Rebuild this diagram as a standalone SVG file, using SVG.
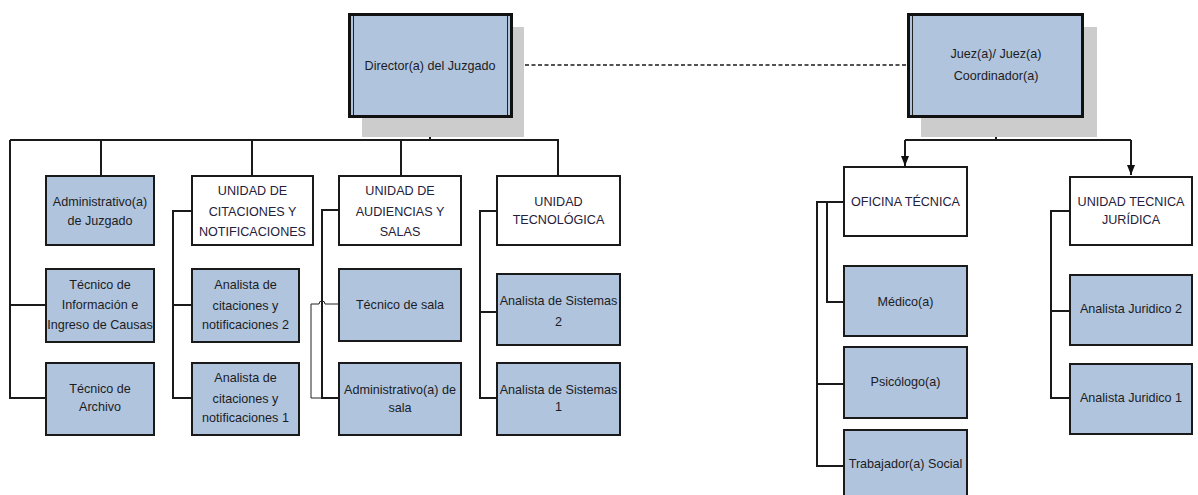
<svg xmlns="http://www.w3.org/2000/svg" width="1198" height="495" viewBox="0 0 1198 495">
  <defs>
    <marker id="arrow" viewBox="0 0 10 8" refX="10" refY="4" markerWidth="10" markerHeight="8" markerUnits="userSpaceOnUse" orient="auto">
      <path d="M0,0 L10,4 L0,8 Z" fill="#111"/>
    </marker>
  </defs>
  <style>
    text { font-family: "Liberation Sans", Arial, sans-serif; font-size: 12.6px; fill: #1c1c24; text-anchor: middle; }
    .head text { fill: #24203a; }
    .role { fill: #b0c4de; stroke: #1a1a1a; stroke-width: 2; }
    .unit { fill: #ffffff; stroke: #1a1a1a; stroke-width: 2; }
    .top { fill: #b0c4de; stroke: #111; stroke-width: 3; }
    .inner { stroke: #222; stroke-width: 1; }
    .shadow { fill: #cccccc; }
    .link { fill: none; stroke: #1a1a1a; stroke-width: 2; }
    .thin { fill: none; stroke: #222; stroke-width: 1; }
    .dash { fill: none; stroke: #1a1a1a; stroke-width: 1.6; stroke-dasharray: 4 2.5; }
  </style>

  <!-- connectors -->
  <g id="connectors">
    <line class="dash" x1="512" y1="65" x2="907" y2="65"/>
    <!-- Director branch -->
    <path class="link" d="M430,117 V140 M10,140 H559 M101,140 V176 M252,140 V176 M401,140 V176 M558,140 V176"/>
    <path class="link" d="M10,140 V398 H46 M10,305 H46"/>
    <path class="link" d="M192,211 H173 V398 H192 M173,305 H192"/>
    <path class="link" d="M339,210 H322 V398 H339"/>
    <path class="thin" d="M339,304 H325 A3,3 0 0 0 319,304 H311 V398 H322"/>
    <path class="link" d="M497,211 H480 V398 H497 M480,312 H497"/>
    <!-- Judge branch -->
    <path class="link" d="M996,117 V140 M905,140 H1131"/>
    <line class="link" x1="905" y1="140" x2="905" y2="166" marker-end="url(#arrow)"/>
    <line class="link" x1="1131" y1="140" x2="1131" y2="175" marker-end="url(#arrow)"/>
    <path class="link" d="M844,202 H817 V466 H844 M817,384 H844 M827,202 V302 H844"/>
    <path class="link" d="M1070,211 H1051 V398 H1070 M1051,311 H1070"/>
  </g>

  <!-- top level -->
  <g id="director">
    <rect class="shadow" x="362" y="27" width="162" height="110"/>
    <rect class="top" x="349.5" y="14.5" width="162" height="102"/>
    <line class="inner" x1="353.5" y1="16" x2="353.5" y2="115"/>
    <line class="inner" x1="507.5" y1="16" x2="507.5" y2="115"/>
    <text x="430" y="69.5">Director(a) del Juzgado</text>
  </g>
  <g id="juez">
    <rect class="shadow" x="921" y="27" width="176" height="110"/>
    <rect class="top" x="908.5" y="14.5" width="174" height="102"/>
    <line class="inner" x1="912.5" y1="16" x2="912.5" y2="115"/>
    <text x="996" y="57.5">Juez(a)/ Juez(a)</text>
    <text x="996" y="79.5">Coordinador(a)</text>
  </g>

  <!-- direct staff -->
  <g id="admin-juzgado">
    <rect class="role" x="46" y="176" width="108" height="69"/>
    <text x="100" y="206">Administrativo(a)</text>
    <text x="100" y="225">de Juzgado</text>
  </g>
  <g id="tecnico-informacion">
    <rect class="role" x="46" y="269" width="108" height="73"/>
    <text x="100" y="289">Técnico de</text>
    <text x="100" y="309">Información e</text>
    <text x="100" y="329">Ingreso de Causas</text>
  </g>
  <g id="tecnico-archivo">
    <rect class="role" x="46" y="363" width="108" height="72"/>
    <text x="100" y="393">Técnico de</text>
    <text x="100" y="411">Archivo</text>
  </g>

  <!-- citaciones -->
  <g id="unidad-citaciones" class="head">
    <rect class="unit" x="192" y="176" width="121" height="69"/>
    <text x="252.5" y="195">UNIDAD DE</text>
    <text x="252.5" y="216">CITACIONES Y</text>
    <text x="252.5" y="236">NOTIFICACIONES</text>
  </g>
  <g id="analista-citaciones-2">
    <rect class="role" x="192" y="269" width="107" height="73"/>
    <text x="245.5" y="289">Analista de</text>
    <text x="245.5" y="310">citaciones y</text>
    <text x="245.5" y="329">notificaciones 2</text>
  </g>
  <g id="analista-citaciones-1">
    <rect class="role" x="192" y="363" width="107" height="72"/>
    <text x="245.5" y="382">Analista de</text>
    <text x="245.5" y="403">citaciones y</text>
    <text x="245.5" y="422">notificaciones 1</text>
  </g>

  <!-- audiencias -->
  <g id="unidad-audiencias" class="head">
    <rect class="unit" x="339" y="176" width="122" height="69"/>
    <text x="400" y="195">UNIDAD DE</text>
    <text x="400" y="216">AUDIENCIAS Y</text>
    <text x="400" y="236">SALAS</text>
  </g>
  <g id="tecnico-sala">
    <rect class="role" x="339" y="269" width="122" height="72"/>
    <text x="400" y="309">Técnico de sala</text>
  </g>
  <g id="admin-sala">
    <rect class="role" x="339" y="363" width="122" height="72"/>
    <text x="400" y="394">Administrativo(a) de</text>
    <text x="400" y="412">sala</text>
  </g>

  <!-- tecnologica -->
  <g id="unidad-tecnologica" class="head">
    <rect class="unit" x="497" y="176" width="123" height="69"/>
    <text x="558.5" y="206">UNIDAD</text>
    <text x="558.5" y="224">TECNOLÓGICA</text>
  </g>
  <g id="analista-sistemas-2">
    <rect class="role" x="497" y="274" width="123" height="71"/>
    <text x="558.5" y="305">Analista de Sistemas</text>
    <text x="558.5" y="326">2</text>
  </g>
  <g id="analista-sistemas-1">
    <rect class="role" x="497" y="363" width="123" height="72"/>
    <text x="558.5" y="394">Analista de Sistemas</text>
    <text x="558.5" y="411">1</text>
  </g>

  <!-- oficina tecnica -->
  <g id="oficina-tecnica" class="head">
    <rect class="unit" x="844" y="167" width="123" height="69"/>
    <text x="905.5" y="206">OFICINA TÉCNICA</text>
  </g>
  <g id="medico">
    <rect class="role" x="844" y="266" width="123" height="70"/>
    <text x="905.5" y="306">Médico(a)</text>
  </g>
  <g id="psicologo">
    <rect class="role" x="844" y="347" width="123" height="71"/>
    <text x="905.5" y="386">Psicólogo(a)</text>
  </g>
  <g id="trabajador-social">
    <rect class="role" x="844" y="430" width="123" height="72"/>
    <text x="905.5" y="468">Trabajador(a) Social</text>
  </g>

  <!-- unidad tecnica juridica -->
  <g id="unidad-juridica" class="head">
    <rect class="unit" x="1070" y="177" width="122" height="68"/>
    <text x="1131" y="206">UNIDAD TECNICA</text>
    <text x="1131" y="224">JURÍDICA</text>
  </g>
  <g id="analista-juridico-2">
    <rect class="role" x="1070" y="275" width="122" height="70"/>
    <text x="1131" y="313">Analista Juridico 2</text>
  </g>
  <g id="analista-juridico-1">
    <rect class="role" x="1070" y="364" width="122" height="70"/>
    <text x="1131" y="402">Analista Juridico 1</text>
  </g>
</svg>
